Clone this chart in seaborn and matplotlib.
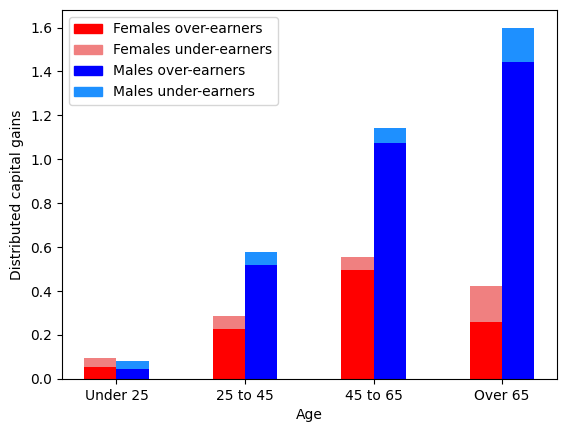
import pandas as pd
import numpy as np
import matplotlib
matplotlib.use('Agg')
import matplotlib.pyplot as plt
import seaborn as sns
from matplotlib.patches import Patch

ages = ['Under 25', '25 to 45', '45 to 65', 'Over 65']
female_over = [0.055, 0.227, 0.495, 0.259]
female_under = [0.041, 0.059, 0.060, 0.164]
male_over = [0.045, 0.518, 1.073, 1.441]
male_under = [0.037, 0.059, 0.068, 0.159]

rows = []
for i, a in enumerate(ages):
    rows.append({'Age': a, 'sex': 'Females', 'over': female_over[i], 'total': female_over[i] + female_under[i]})
    rows.append({'Age': a, 'sex': 'Males', 'over': male_over[i], 'total': male_over[i] + male_under[i]})
df = pd.DataFrame(rows)

fig, ax = plt.subplots(figsize=(5.67, 4.32), dpi=100)
fig.subplots_adjust(left=0.109, right=0.982, top=0.977, bottom=0.123)

# under-earners stacked on top: draw totals first, then over-earners on top
sns.barplot(data=df, x='Age', y='total', hue='sex', order=ages, hue_order=['Females', 'Males'],
            palette={'Females': 'lightcoral', 'Males': 'dodgerblue'}, width=0.5,
            saturation=1, errorbar=None, linewidth=0, legend=False, ax=ax)
sns.barplot(data=df, x='Age', y='over', hue='sex', order=ages, hue_order=['Females', 'Males'],
            palette={'Females': 'red', 'Males': 'blue'}, width=0.5,
            saturation=1, errorbar=None, linewidth=0, legend=False, ax=ax)

ax.set_xlim(-0.425, 3.425)
ax.set_ylim(0, 1.05 * max(np.array(male_over) + np.array(male_under)))
ax.set_xlabel('Age')
ax.set_ylabel('Distributed capital gains')

handles = [Patch(color='red', label='Females over-earners'),
           Patch(color='lightcoral', label='Females under-earners'),
           Patch(color='blue', label='Males over-earners'),
           Patch(color='dodgerblue', label='Males under-earners')]
ax.legend(handles=handles, loc='upper left')

plt.savefig('out.png', dpi=100)
